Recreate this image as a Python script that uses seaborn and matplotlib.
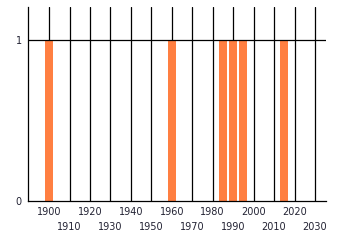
import matplotlib
matplotlib.use("Agg")
import matplotlib.pyplot as plt
import seaborn as sns
import pandas as pd
import numpy as np

years = [1900, 1960, 1985, 1990, 1995, 2015]
values = [1, 1, 1, 1, 1, 1]
major_ticks = [1900, 1920, 1940, 1960, 1980, 2000, 2020]
minor_ticks = [1910, 1930, 1950, 1970, 1990, 2010, 2030]
y_ticks = [0, 1]

sns.set_theme(style="white")
plt.rcParams['font.family'] = ['DejaVu Sans']

df = pd.DataFrame({"year": years, "value": values})

fig = plt.figure(figsize=(3.4, 2.45), dpi=100)
ax = fig.add_axes([28/340, 1-201/245, (326-28)/340, (201-7)/245])

sns.barplot(data=df, x="year", y="value", native_scale=True, color="#FF7F41",
            saturation=1, width=0.8, linewidth=0, edgecolor="none", ax=ax, zorder=3)

ax.set_xlim(1889.7, 2035.4)
ax.set_ylim(0, 1.205)
ax.set_xticks(major_ticks)
ax.set_xticks(minor_ticks, minor=True)
ax.set_xticklabels([str(t) for t in major_ticks])
ax.set_xticklabels([str(t) for t in minor_ticks], minor=True)
ax.set_yticks(y_ticks)
ax.set_yticklabels([str(t) for t in y_ticks])

ax.set_axisbelow(True)
ax.grid(False)
ax.xaxis.grid(True, which="both", color="black", linewidth=0.9)
ax.axhline(1, color="black", linewidth=0.9, zorder=4)

ax.tick_params(axis="x", which="major", length=2.5, width=0.9, color="black",
               pad=1.5, labelsize=7, labelcolor="#222233")
ax.tick_params(axis="x", which="minor", length=2.5, width=0.9, color="black",
               pad=12.5, labelsize=7, labelcolor="#222233")
ax.tick_params(axis="y", length=0, pad=4.5, labelsize=7, labelcolor="#222233")

for s in ["top", "right"]:
    ax.spines[s].set_visible(False)
for s in ["left", "bottom"]:
    ax.spines[s].set_color("black")
    ax.spines[s].set_linewidth(0.9)
    ax.spines[s].set_zorder(5)

ax.set_xlabel("")
ax.set_ylabel("")
fig.savefig("out.png", dpi=100)
